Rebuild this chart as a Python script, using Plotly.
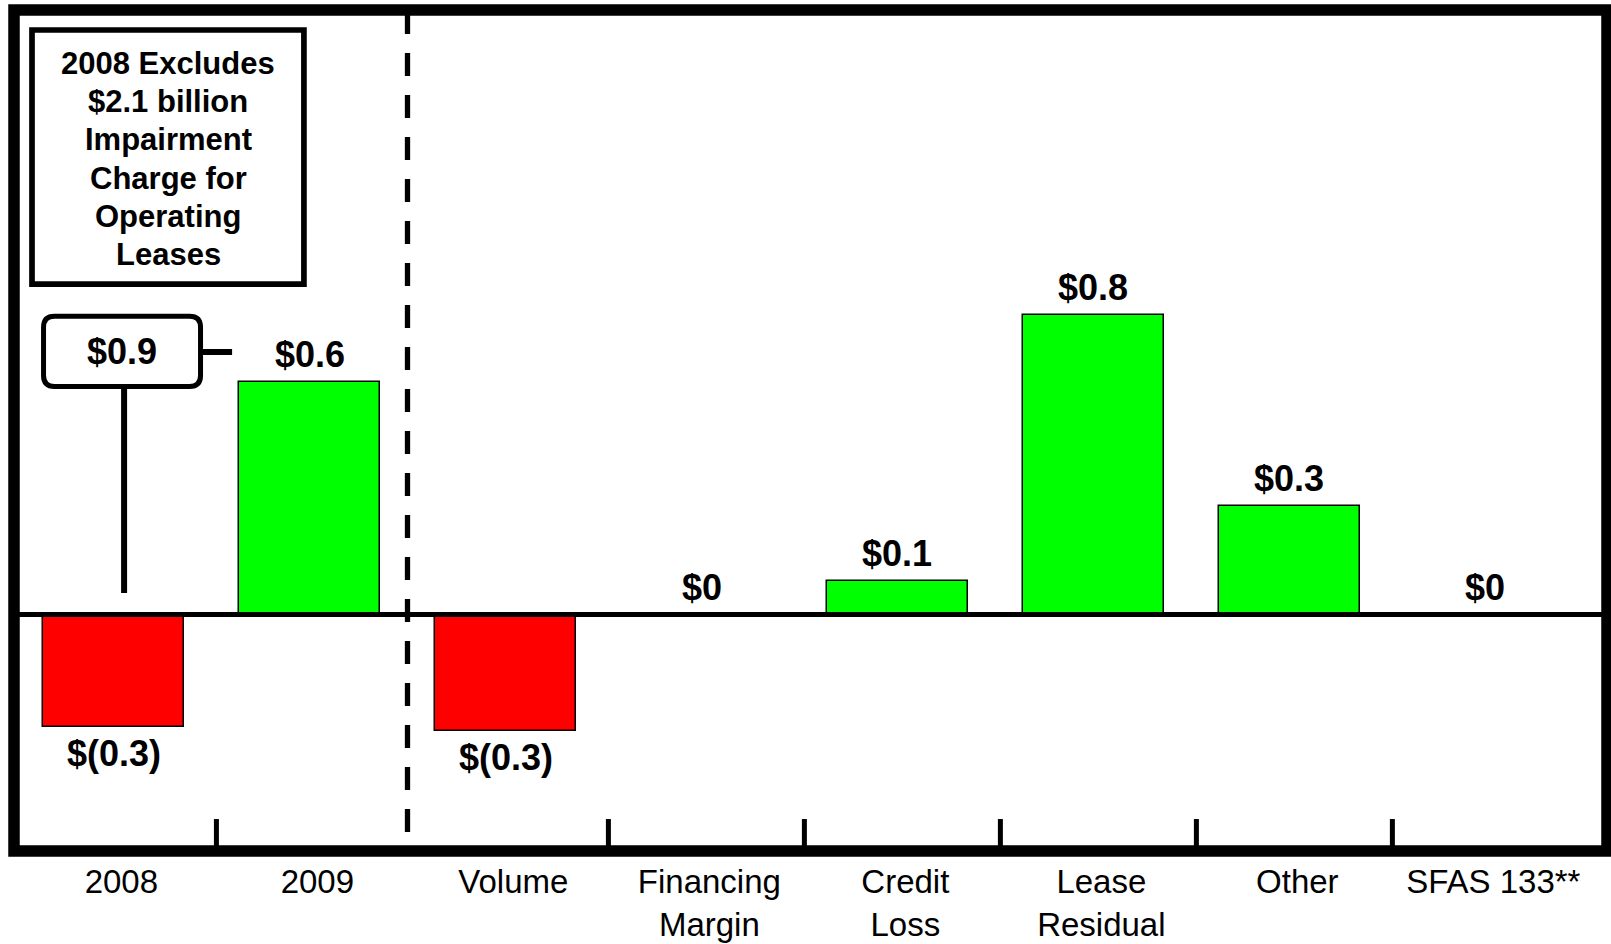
import plotly.graph_objects as go

# ---------------- data ----------------
categories = ["2008", "2009", "Volume", "Financing<br>Margin", "Credit<br>Loss",
              "Lease<br>Residual", "Other", "SFAS 133**"]
values = [-0.30, 0.62, -0.31, 0.0, 0.09, 0.80, 0.29, 0.0]
value_labels = ["$(0.3)", "$0.6", "$(0.3)", "$0", "$0.1", "$0.8", "$0.3", "$0"]
callout_label = "$0.9"
note_lines = ["2008 Excludes", "$2.1 billion", "Impairment", "Charge for",
              "Operating", "Leases"]

RED = "#FF0000"
GREEN = "#00FF00"
BLACK = "#000000"
FONT = "Liberation Sans, Arial, sans-serif"

x = list(range(len(categories)))
colors = [RED if v < 0 else GREEN for v in values]

fig = go.Figure()
fig.add_trace(go.Bar(
    x=x, y=values, width=0.72,
    marker=dict(color=colors, line=dict(color=BLACK, width=1.5)),
    hoverinfo="skip", showlegend=False,
))

shapes = []
annotations = []

# outer frame
shapes.append(dict(type="rect", xref="paper", yref="paper", x0=0, x1=1, y0=0, y1=1,
                   line=dict(color=BLACK, width=11.5), layer="above"))
# zero line
shapes.append(dict(type="line", xref="paper", yref="y", x0=0, x1=1, y0=0, y1=0,
                   line=dict(color=BLACK, width=5), layer="above"))
# dashed divider between 2009 and Volume
shapes.append(dict(type="line", xref="x", yref="paper", x0=1.5, x1=1.5, y0=0.0226, y1=1,
                   line=dict(color=BLACK, width=5.3, dash="23px,19px"), layer="above"))
# category separators on the bottom edge
tick_shift = 0.025
label_shift = 0.04
for b in [0.5, 2.5, 3.5, 4.5, 5.5, 6.5]:
    shapes.append(dict(type="line", xref="x", yref="paper", x0=b + tick_shift, x1=b + tick_shift,
                       y0=0, y1=0.038, line=dict(color=BLACK, width=5), layer="above"))

# value labels
for xi, v, t in zip(x, values, value_labels):
    annotations.append(dict(x=xi, y=v, xref="x", yref="y", text="<b>" + t + "</b>",
                            showarrow=False, yanchor="middle", xanchor="center",
                            yshift=27 if v >= 0 else -27,
                            font=dict(family=FONT, size=36, color=BLACK)))

# 2008 callout (rounded box + connectors)
bx0, bx1, by0, by1 = -0.357, 0.444, 0.608, 0.795
rx, ry = 0.056, 0.0293
path = (f"M {bx0+rx},{by1} L {bx1-rx},{by1} Q {bx1},{by1} {bx1},{by1-ry} "
        f"L {bx1},{by0+ry} Q {bx1},{by0} {bx1-rx},{by0} L {bx0+rx},{by0} "
        f"Q {bx0},{by0} {bx0},{by0+ry} L {bx0},{by1-ry} Q {bx0},{by1} {bx0+rx},{by1} Z")
shapes.append(dict(type="path", xref="x", yref="y", path=path,
                   line=dict(color=BLACK, width=5), fillcolor="white", layer="above"))
shapes.append(dict(type="line", xref="x", yref="y", x0=bx1, x1=0.605, y0=0.700, y1=0.700,
                   line=dict(color=BLACK, width=6), layer="above"))
shapes.append(dict(type="line", xref="x", yref="y", x0=0.054, x1=0.054, y0=by0, y1=0.0573,
                   line=dict(color=BLACK, width=6), layer="above"))
annotations.append(dict(x=(bx0 + bx1) / 2, y=0.700, xref="x", yref="y",
                        text="<b>" + callout_label + "</b>", showarrow=False,
                        yanchor="middle", xanchor="center",
                        font=dict(family=FONT, size=36, color=BLACK)))

# note box
shapes.append(dict(type="rect", xref="paper", yref="paper",
                   x0=0.0113, x1=0.1820, y0=0.6741, y1=0.9762,
                   line=dict(color=BLACK, width=5.7), fillcolor="white", layer="above"))
note_top_px, note_step_px = 63, 38.4
for k, line in enumerate(note_lines):
    py = note_top_px + k * note_step_px
    annotations.append(dict(x=0.0967, y=(851 - py) / 841, xref="paper", yref="paper",
                            text="<b>" + line + "</b>", showarrow=False,
                            yanchor="middle", xanchor="center",
                            font=dict(family=FONT, size=31, color=BLACK)))

fig.update_layout(
    width=1611, height=944,
    margin=dict(l=14, r=4, t=10, b=93, pad=0, autoexpand=False),
    paper_bgcolor="white", plot_bgcolor="white",
    bargap=0, showlegend=False,
    shapes=shapes, annotations=annotations,
    xaxis=dict(range=[-0.5077, 7.620], tickmode="array", automargin=False,
               tickvals=[xi + label_shift for xi in x], ticktext=categories,
               ticks="", showgrid=False, zeroline=False, showline=False,
               tickfont=dict(family=FONT, size=33, color=BLACK),
               ticklabelstandoff=8, fixedrange=True),
    yaxis=dict(range=[-0.6307, 1.612], showticklabels=False, ticks="", automargin=False,
               showgrid=False, zeroline=False, showline=False, fixedrange=True),
)

fig.write_html("out.html")
